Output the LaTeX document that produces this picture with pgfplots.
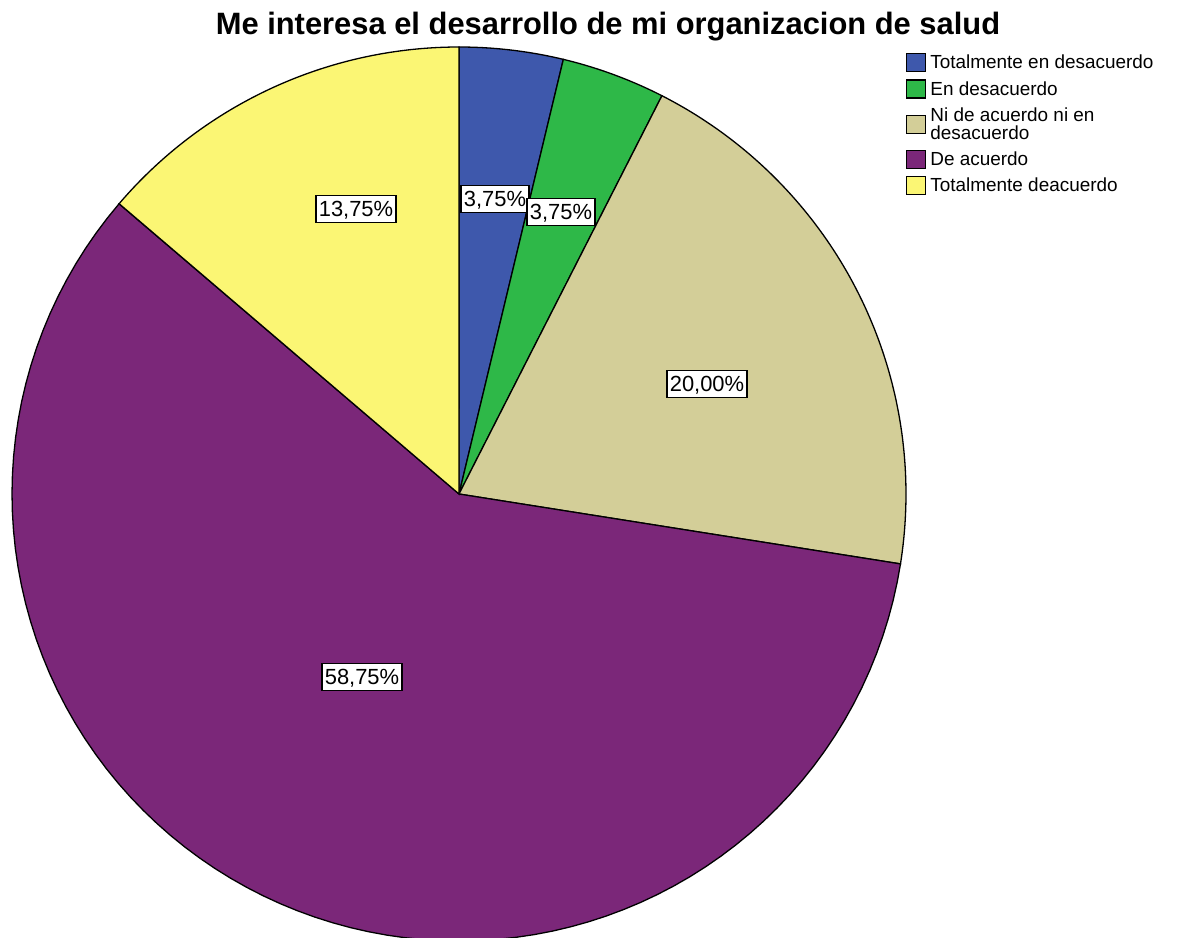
\documentclass[border=0pt]{standalone}
\usepackage{pgfplots}
\pgfplotsset{compat=1.18}
\usepackage{fontspec}
\setmainfont{Liberation Sans}
\definecolor{cblue}{HTML}{3E58AC}
\definecolor{cgreen}{HTML}{2EB848}
\definecolor{ctan}{HTML}{D3CE98}
\definecolor{cpurple}{HTML}{7B2779}
\definecolor{cyellow}{HTML}{FBF674}

% pie geometry in pixel units of the reference: centre and radius
\def\cx{459}\def\cy{-494}\def\rr{447}
% #1 = cumulative percent before the slice, #2 = slice percent, #3 = colour
\newcommand{\slice}[3]{%
  \addplot[fill=#3, draw=black, line width=1.3bp, domain=0:1, samples=90, variable=\t, forget plot]
    ({\cx+\rr*cos(90-3.6*(#1+#2*\t))}, {\cy+\rr*sin(90-3.6*(#1+#2*\t))})
    -- (axis cs:\cx,\cy) -- cycle;
}

\begin{document}
\begin{tikzpicture}
\begin{axis}[
    x=1bp, y=1bp,
    xmin=0, xmax=1188, ymin=-938, ymax=0,
    hide axis,
    legend style={draw=none, fill=none, at={(axis cs:906,-53)}, anchor=north west,
        font=\fontsize{19}{18}\selectfont, row sep=7bp, inner sep=0pt,
        cells={anchor=west, align=left}},
    legend image code/.code={\draw[#1, line width=1.2bp] (0bp,-9bp) rectangle (19bp,9bp);},
    legend cell align=left,
]
\path (rel axis cs:0,0) rectangle (rel axis cs:1,1);

% Totalmente en desacuerdo 3.75, En desacuerdo 3.75, Ni de acuerdo ni en desacuerdo 20.00,
% De acuerdo 58.75, Totalmente deacuerdo 13.75
\slice{0}{3.75}{cblue}
\slice{3.75}{3.75}{cgreen}
\slice{7.5}{20}{ctan}
\slice{27.5}{58.75}{cpurple}
\slice{86.25}{13.75}{cyellow}

\addlegendimage{fill=cblue, draw=black}
\addlegendentry{\hspace{2bp}Totalmente en desacuerdo}
\addlegendimage{fill=cgreen, draw=black}
\addlegendentry{\hspace{2bp}En desacuerdo}
\addlegendimage{fill=ctan, draw=black}
\addlegendentry{\hspace{2bp}Ni de acuerdo ni en\\\hspace{2bp}desacuerdo}
\addlegendimage{fill=cpurple, draw=black}
\addlegendentry{\hspace{2bp}De acuerdo}
\addlegendimage{fill=cyellow, draw=black}
\addlegendentry{\hspace{2bp}Totalmente deacuerdo}

\tikzset{lbl/.style={draw=black, fill=white, line width=1.6bp, inner xsep=3bp, inner ysep=5bp,
    text height=16bp, text depth=1bp, font=\fontsize{22}{22}\selectfont}}
\node[lbl] at (axis cs:495,-199) {3,75\%};
\node[lbl] at (axis cs:561,-212) {3,75\%};
\node[lbl] at (axis cs:707,-384) {20,00\%};
\node[lbl] at (axis cs:362,-677) {58,75\%};
\node[lbl] at (axis cs:356,-209) {13,75\%};

\node[font=\bfseries\fontsize{31}{31}\selectfont, anchor=base] at (axis cs:608,-35)
    {Me interesa el desarrollo de mi organizacion de salud};
\end{axis}
\end{tikzpicture}
\end{document}
